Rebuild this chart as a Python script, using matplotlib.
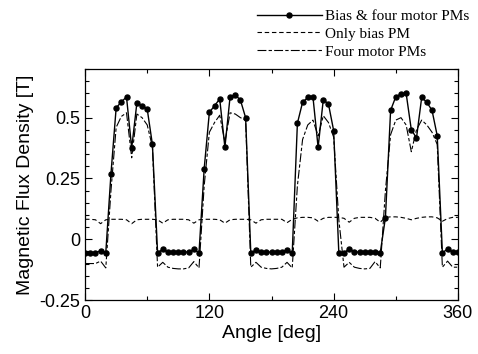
import numpy as np
import matplotlib
matplotlib.use("Agg")
import matplotlib.pyplot as plt
from matplotlib.ticker import MultipleLocator, FixedLocator

# rotor angle [deg], sampled every 5 deg
angle = np.arange(0, 365, 5)

both = [
    -0.055, -0.055, -0.055, -0.048, -0.055, 0.27, 0.54, 0.565, 0.585, 0.375,
    0.56, 0.55, 0.535, 0.39, -0.055, -0.042, -0.052, -0.052, -0.053, -0.053,
    -0.052, -0.042, -0.056, 0.29, 0.522, 0.549, 0.577, 0.378, 0.586, 0.594,
    0.572, 0.50, -0.056, -0.045, -0.052, -0.053, -0.053, -0.053, -0.052, -0.045,
    -0.058, 0.477, 0.563, 0.583, 0.586, 0.378, 0.574, 0.556, 0.447, -0.056,
    -0.056, -0.04, -0.052, -0.053, -0.053, -0.053, -0.052, -0.056, 0.089, 0.53,
    0.586, 0.597, 0.60, 0.45, 0.417, 0.583, 0.563, 0.53, 0.426, -0.056,
    -0.04, -0.052, -0.052,
]

bias_only = [
    0.082, 0.082, 0.080, 0.064, 0.080, 0.082, 0.082, 0.082, 0.080, 0.064,
    0.080, 0.082, 0.082, 0.082, 0.080, 0.066, 0.080, 0.082, 0.082, 0.082,
    0.080, 0.066, 0.080, 0.082, 0.082, 0.082, 0.080, 0.066, 0.080, 0.082,
    0.082, 0.082, 0.080, 0.066, 0.080, 0.082, 0.082, 0.082, 0.082, 0.068,
    0.082, 0.088, 0.090, 0.090, 0.088, 0.074, 0.086, 0.090, 0.090, 0.090,
    0.086, 0.070, 0.086, 0.090, 0.090, 0.090, 0.086, 0.070, 0.090, 0.092,
    0.092, 0.090, 0.086, 0.080, 0.086, 0.090, 0.092, 0.092, 0.088, 0.074,
    0.085, 0.090, 0.090,
]

motor_only = [
    -0.10, -0.10, -0.10, -0.09, -0.118, 0.20, 0.46, 0.505, 0.52, 0.335,
    0.515, 0.50, 0.47, 0.38, -0.115, -0.095, -0.115, -0.12, -0.122, -0.122,
    -0.118, -0.092, -0.118, 0.22, 0.44, 0.48, 0.51, 0.40, 0.52, 0.515,
    0.50, 0.49, -0.115, -0.095, -0.115, -0.12, -0.122, -0.12, -0.115, -0.095,
    -0.118, 0.22, 0.41, 0.47, 0.49, 0.425, 0.508, 0.48, 0.42, 0.08,
    -0.115, -0.095, -0.115, -0.12, -0.122, -0.12, -0.092, -0.118, 0.20, 0.43,
    0.49, 0.50, 0.47, 0.36, 0.45, 0.49, 0.47, 0.44, 0.39, -0.115,
    -0.09, -0.115, -0.115,
]

xticks = [0, 120, 240, 360]
yticks = [-0.25, 0, 0.25, 0.5]

plt.rcParams["font.family"] = "Liberation Sans"

fig = plt.figure(figsize=(4.78, 3.54), dpi=100)
ax = fig.add_axes([0.178, 0.1525, 0.78, 0.6525])

ax.plot(angle, both, color="black", lw=1.0, marker="o", ms=3.6,
        label="Bias & four motor PMs")
ax.plot(angle, bias_only, color="black", lw=0.8, ls=(0, (4, 2.5)),
        label="Only bias PM")
ax.plot(angle, motor_only, color="black", lw=0.8, ls=(0, (8, 2, 3, 2)),
        label="Four motor PMs")

ax.set_xlim(0, 360)
ax.set_ylim(-0.25, 0.7)
ax.xaxis.set_major_locator(FixedLocator(xticks))
ax.xaxis.set_minor_locator(MultipleLocator(60))
ax.yaxis.set_major_locator(FixedLocator(yticks))
ax.set_yticklabels([f"{v:g}" for v in yticks])
ax.yaxis.set_minor_locator(MultipleLocator(0.05))
ax.tick_params(which="both", direction="in", top=True, right=True,
               labelsize=13, width=0.8)
ax.tick_params(which="major", length=5)
ax.tick_params(which="minor", length=3)
for s in ax.spines.values():
    s.set_linewidth(0.9)

ax.set_xlabel("Angle [deg]", fontsize=14, labelpad=2)
ax.set_ylabel("Magnetic Flux Density [T]", fontsize=14, labelpad=4)

leg = fig.legend(loc="upper right", bbox_to_anchor=(1.0, 1.0),
                 frameon=False, handlelength=4.2, handletextpad=0.2,
                 labelspacing=0.27, borderaxespad=0.2,
                 prop={"family": "Liberation Serif", "size": 11})

fig.savefig("out.png", dpi=100)
